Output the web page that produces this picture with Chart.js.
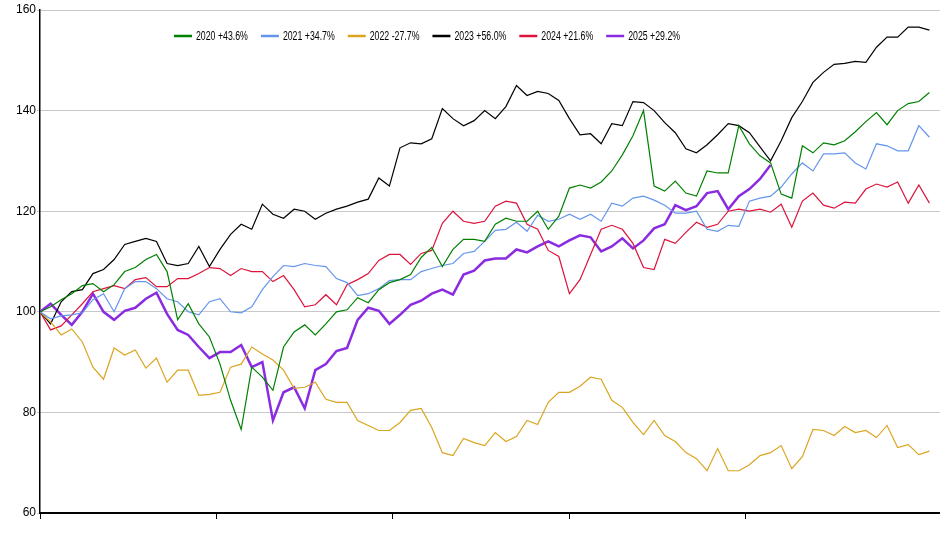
<!DOCTYPE html>
<html>
<head>
<meta charset="utf-8">
<script src="https://cdn.jsdelivr.net/npm/chart.js@4"></script>
<style>
  body { margin: 0; background: #fff; }
  canvas { display: block; }
</style>
</head>
<body>
<canvas id="chart" width="940" height="550"></canvas>
<script>
// one value every 3 trading days, indexed to 100 at the start of each year
const step = 3;

const years = ['2020', '2021', '2022', '2023', '2024', '2025'];
const changes = ['+43.6%', '+34.7%', '-27.7%', '+56.0%', '+21.6%', '+29.2%'];
const colors = ['#008000', '#6495ED', '#DAA520', '#000000', '#DC143C', '#8A2BE2'];

const y2020 = [100, 101, 102.4, 103.6, 105.2, 105.6, 104, 105.4, 108, 108.8,
  110.4, 111.4, 108, 98.4, 101.6, 97.6, 95, 89.6, 82.4, 76.6,
  89, 87, 84.4, 93, 96, 97.4, 95.4, 97.6, 100, 100.4,
  102.8, 101.8, 104.4, 105.8, 106.4, 107.4, 110.8, 112.8, 109, 112.4,
  114.4, 114.4, 114, 117.4, 118.6, 118, 118, 120, 116.4, 119,
  124.6, 125.2, 124.6, 125.8, 128, 131.2, 135, 140, 125, 124,
  126, 123.6, 123, 128, 127.6, 127.6, 137, 133.4, 131, 129.6,
  123.4, 122.6, 133, 131.6, 133.6, 133.2, 134, 135.8, 137.8, 139.6,
  137.2, 140, 141.4, 141.8, 143.6];

const y2021 = [100, 98.6, 99.2, 99.4, 99.8, 102.4, 103.6, 100, 104.6, 106,
  106, 104.6, 102.6, 102, 100, 99.4, 102, 102.6, 100, 99.8,
  101, 104.4, 107, 109.2, 109, 109.6, 109.2, 109, 106.6, 105.8,
  103.2, 103.6, 104.6, 106.2, 106.4, 106.4, 108, 108.6, 109.2, 109.6,
  111.6, 112, 114, 116.2, 116.4, 117.8, 116, 119.2, 118, 118.4,
  119.4, 118.4, 119.4, 118, 121.6, 121, 122.6, 123, 122.2, 121.2,
  119.6, 119.6, 120, 116.4, 116, 117.2, 117, 122, 122.6, 123,
  124.8, 127.4, 129.6, 128, 131.4, 131.4, 131.6, 129.6, 128.4, 133.4,
  133, 132, 132, 137, 134.7];

const y2022 = [100, 98, 95.4, 96.6, 94, 89, 86.6, 92.8, 91.4, 92.4,
  88.8, 90.8, 86, 88.4, 88.4, 83.4, 83.6, 84, 89, 89.6,
  93, 91.6, 90.4, 88.4, 84.8, 85, 86, 82.6, 82, 82,
  78.4, 77.4, 76.4, 76.4, 78, 80.4, 80.8, 77, 72, 71.4,
  74.8, 74, 73.4, 76, 74.2, 75.2, 78.4, 77.6, 82, 84,
  84, 85.2, 87, 86.6, 82.4, 81, 78, 75.6, 78.4, 75.4,
  74.2, 72, 70.8, 68.4, 72.8, 68.4, 68.4, 69.6, 71.4, 72,
  73.4, 68.8, 71.2, 76.6, 76.4, 75.4, 77.2, 76, 76.4, 75,
  77.4, 73, 73.6, 71.6, 72.3];

const y2023 = [100, 97.6, 102, 104, 104.4, 107.6, 108.4, 110.4, 113.4, 114,
  114.6, 114, 109.6, 109.2, 109.6, 113, 109, 112.4, 115.4, 117.4,
  116.4, 121.4, 119.4, 118.6, 120.4, 120, 118.4, 119.6, 120.4, 121,
  121.8, 122.4, 126.6, 125, 132.6, 133.6, 133.4, 134.4, 140.4, 138.4,
  137, 138, 140, 138.4, 140.8, 145, 143, 143.8, 143.4, 142,
  138.4, 135.2, 135.4, 133.4, 137.4, 137, 141.8, 141.6, 140, 137.6,
  135.6, 132.4, 131.6, 133.2, 135.2, 137.4, 137, 135.6, 132.8, 130,
  134, 138.6, 141.8, 145.6, 147.6, 149.2, 149.4, 149.8, 149.6, 152.6,
  154.6, 154.6, 156.6, 156.6, 156];

const y2024 = [100, 96.4, 97.2, 99.4, 101.6, 104, 104.6, 105.2, 104.6, 106.4,
  106.8, 105, 105, 106.6, 106.6, 107.6, 108.8, 108.6, 107.2, 108.6,
  108, 108, 106, 107.2, 104.4, 101, 101.4, 103.4, 101.4, 105.4,
  106.4, 107.6, 110.2, 111.4, 111.4, 109.4, 111.6, 112.2, 117.6, 120,
  118, 117.6, 118, 121, 122, 121.6, 117.4, 116.4, 112.2, 111,
  103.6, 106.4, 111.4, 116.4, 117.2, 116.4, 113.6, 108.8, 108.4, 114.4,
  113.6, 115.8, 117.8, 116.8, 117.4, 120, 120.4, 120, 120.4, 119.8,
  121.4, 116.8, 122, 123.6, 121.2, 120.6, 121.8, 121.6, 124.4, 125.4,
  124.8, 125.8, 121.6, 125.2, 121.6];

const y2025 = [100, 101.6, 99.4, 97.4, 100, 103.6, 100, 98.4, 100.2, 100.8,
  102.6, 103.8, 99.6, 96.4, 95.4, 93, 90.8, 92, 92, 93.4,
  89, 90, 78.4, 84, 85, 80.8, 88.4, 89.6, 92.2, 92.8,
  98.4, 100.8, 100.2, 97.6, 99.4, 101.4, 102.2, 103.6, 104.4, 103.4,
  107.4, 108.2, 110.2, 110.6, 110.6, 112.4, 111.8, 113, 114, 113,
  114.2, 115.2, 114.8, 112, 113, 114.6, 112.6, 114.2, 116.6, 117.4,
  121.2, 120.2, 121, 123.6, 124, 120.4, 123, 124.4, 126.4, 129.2];

const series = [y2020, y2021, y2022, y2023, y2024, y2025];

const yTicks = [60, 80, 100, 120, 140, 160];

function toPoints(values) {
  return values.map((v, i) => ({ x: i * step, y: v }));
}

// legend sits inside the plot, drawn by hand with a narrow-looking font
const inlineLegend = {
  id: 'inlineLegend',
  afterDraw(chart) {
    const ctx = chart.ctx;
    const squeeze = 0.73;
    ctx.save();
    ctx.font = '12px "Liberation Sans", Arial, sans-serif';
    ctx.textBaseline = 'middle';
    let x = 174;
    const y = 36;
    chart.data.datasets.forEach(ds => {
      ctx.strokeStyle = ds.borderColor;
      ctx.lineWidth = 2.5;
      ctx.beginPath();
      ctx.moveTo(x, y);
      ctx.lineTo(x + 18, y);
      ctx.stroke();
      ctx.save();
      ctx.translate(x + 22, y + 1);
      ctx.scale(squeeze, 1);
      ctx.fillStyle = '#000';
      ctx.fillText(ds.label, 0, 0);
      ctx.restore();
      x += 22 + ctx.measureText(ds.label).width * squeeze + 13;
    });
    ctx.restore();
  }
};

const ctx = document.getElementById('chart').getContext('2d');

new Chart(ctx, {
  type: 'line',
  data: {
    datasets: series.map((values, i) => ({
      label: years[i] + ' ' + changes[i],
      data: toPoints(values),
      borderColor: colors[i],
      backgroundColor: colors[i],
      borderWidth: i === 5 ? 2.5 : 1.2,
      pointRadius: 0,
      tension: 0,
      fill: false,
    })),
  },
  options: {
    responsive: false,
    animation: false,
    layout: { padding: { top: 10, right: 0, bottom: 0, left: 0 } },
    plugins: {
      legend: { display: false },
      tooltip: { enabled: false },
    },
    scales: {
      x: {
        type: 'linear',
        min: 0,
        max: 255,
        border: { color: '#000', width: 2 },
        grid: { drawOnChartArea: false, drawTicks: true, tickLength: 6, color: '#000' },
        ticks: { stepSize: 50, display: false },
        afterFit(scale) { scale.height = 37; },
      },
      y: {
        min: yTicks[0],
        max: yTicks[yTicks.length - 1],
        border: { color: '#000', width: 1.5 },
        grid: { color: '#c8c8c8', tickLength: 3 },
        ticks: {
          stepSize: 20,
          color: '#000',
          padding: 1,
          font: { family: '"Liberation Sans", Arial, sans-serif', size: 12 },
        },
        afterFit(scale) { scale.width = 40; },
      },
    },
  },
  plugins: [inlineLegend],
});
</script>
</body>
</html>
